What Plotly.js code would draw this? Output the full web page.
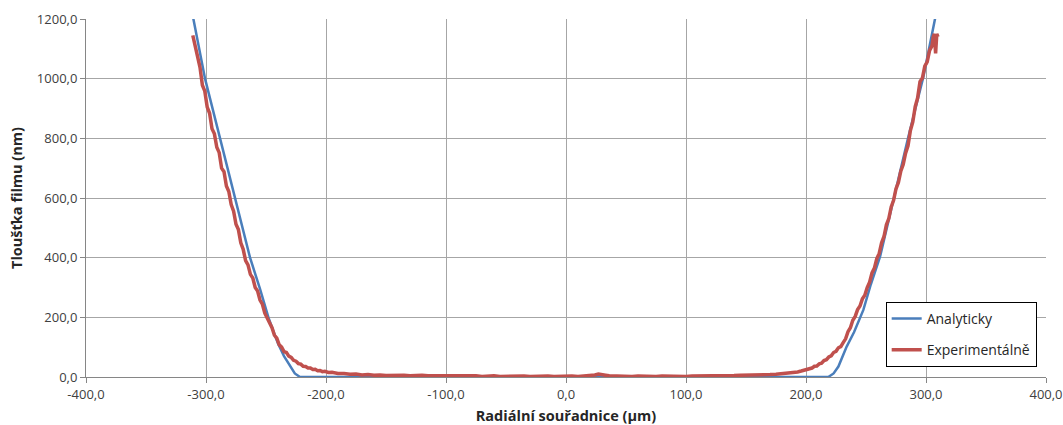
<!DOCTYPE html>
<html>
<head>
<meta charset="utf-8">
<script src="https://cdn.plot.ly/plotly-3.0.1.min.js"></script>
<style>html,body{margin:0;padding:0;background:#fff;}#chart{width:1063px;height:425px;}</style>
</head>
<body>
<div id="chart"></div>
<script>
// Analytical film thickness
const analyticX = [-313, -310.5, -300.8, -288.3, -275.8, -263.3, -255, -248, -244, -240, -235, -230, -226, -221.7,
  -150, -50, 0, 50, 150, 218.6, 223, 227, 233.9, 240, 247.8, 254, 261.7, 272.8, 285, 297.8, 307.5, 310];
const analyticY = [1260, 1200, 1000, 800, 600, 400, 295, 200, 155, 112, 70, 35, 12, 0,
  0, 0, 0, 0, 0, 0, 12, 35, 102, 150, 225, 310, 403, 593, 800, 1006, 1197, 1250];

const expX = [-311, -309, -307, -305, -303, -301, -299, -297, -295, -293, -291, -289, -287, -285, -283, -281,
  -279, -277, -275, -273, -271, -269, -267, -265, -263, -261, -259, -257, -255, -253, -251, -249,
  -247, -245, -243, -241, -239, -237, -235, -233, -231, -229, -227, -225, -223, -221, -219, -217,
  -215, -213, -211, -209, -207, -205, -203, -201, -198, -195, -190, -185, -180, -175, -170, -165,
  -160, -155, -150, -145, -140, -135, -130, -125, -120, -115, -110, -105, -100, -95, -90, -85,
  -80, -75, -70, -65, -60, -55, -50, -45, -40, -35, -30, -25, -20, -15, -10, -5,
  0, 5, 10, 15, 20, 24, 27, 30, 33, 36, 40, 45, 50, 55, 60, 65,
  70, 75, 80, 85, 90, 95, 100, 105, 110, 115, 120, 125, 130, 135, 140, 145,
  150, 155, 160, 165, 170, 175, 180, 185, 190, 193, 196, 199, 201, 203, 205, 207,
  209, 211, 213, 215, 217, 219, 221, 223, 225, 227, 229, 231, 233, 235, 237, 239,
  241, 243, 245, 247, 249, 251, 253, 255, 257, 259, 261, 263, 265, 267, 269, 271,
  273, 275, 277, 279, 281, 283, 285, 287, 289, 291, 293, 295, 297, 299, 301, 303,
  305, 306, 307, 308, 309, 310];
const expY = [1145, 1108, 1062, 1038, 978, 958, 905, 884, 832, 815, 770, 752, 700, 688, 640, 622,
  578, 556, 512, 494, 450, 428, 390, 376, 344, 332, 300, 288, 258, 244, 214, 198,
  176, 165, 140, 130, 108, 100, 85, 82, 70, 66, 56, 53, 45, 43, 36, 35,
  30, 30, 25, 26, 21, 22, 18, 19, 15, 16, 12, 12, 9, 10, 7, 8,
  6, 7, 5, 6, 5, 6, 4, 5, 6, 4, 4, 5, 3, 4, 3, 4,
  3, 4, 2, 3, 4, 2, 3, 3, 2, 3, 2, 3, 2, 3, 2, 3,
  2, 3, 2, 3, 4, 7, 10, 9, 6, 4, 3, 2, 3, 2, 3, 2,
  3, 2, 3, 2, 3, 2, 2, 3, 3, 4, 3, 4, 4, 5, 5, 6,
  6, 7, 7, 8, 8, 9, 11, 12, 15, 17, 20, 24, 26, 29, 30, 36,
  37, 44, 46, 55, 58, 67, 71, 82, 86, 98, 102, 115, 128, 152, 165, 190,
  203, 226, 238, 262, 274, 300, 318, 349, 365, 397, 414, 450, 471, 510, 531, 570,
  592, 631, 652, 690, 712, 750, 775, 826, 855, 906, 935, 990, 1002, 1042, 1056, 1095,
  1110, 1140, 1150, 1085, 1150, 1140];

const seriesNames = ['Analyticky', 'Experimentálně'];
const xTickVals = [-400, -300, -200, -100, 0, 100, 200, 300, 400];
const xTickText = ['-400,0', '-300,0', '-200,0', '-100,0', '0,0', '100,0', '200,0', '300,0', '400,0'];
const yTickVals = [0, 200, 400, 600, 800, 1000, 1200];
const yTickText = ['0,0', '200,0', '400,0', '600,0', '800,0', '1000,0', '1200,0'];

const FONT = 'Open Sans, Liberation Sans, sans-serif';

const traces = [
  {x: analyticX, y: analyticY, type: 'scatter', mode: 'lines', name: seriesNames[0], legendgroup: 'a',
   line: {color: '#4a7ebb', width: 2.5}},
  {x: expX, y: expY, type: 'scatter', mode: 'lines', name: seriesNames[1], legendgroup: 'b',
   line: {color: '#c0504d', width: 3.5}}
];

const layout = {
  width: 1063, height: 425,
  margin: {l: 86, r: 17, t: 19, b: 48, pad: 0},
  paper_bgcolor: '#ffffff', plot_bgcolor: '#ffffff',
  font: {family: FONT, size: 13, color: '#404040'},
  showlegend: true,
  legend: {x: 0.833, y: 0.2095, xanchor: 'left', yanchor: 'top', bgcolor: '#ffffff',
    bordercolor: '#000000', borderwidth: 1, font: {family: FONT, size: 14, color: '#262626'},
    traceorder: 'grouped', tracegroupgap: 10},
  xaxis: {range: [-400, 400], tickvals: xTickVals, ticktext: xTickText, showgrid: true,
    gridcolor: '#a6a6a6', gridwidth: 1, zeroline: false, showline: true, linecolor: '#868686',
    linewidth: 1, ticks: 'outside', ticklen: 5, tickcolor: '#868686',
    tickfont: {family: FONT, size: 13, color: '#404040'},
    title: {text: 'Radiální souřadnice (µm)', font: {family: FONT, size: 14.5, color: '#262626', weight: 'bold'}, standoff: 10}},
  yaxis: {range: [0, 1200], tickvals: yTickVals, ticktext: yTickText, showgrid: true,
    gridcolor: '#a6a6a6', gridwidth: 1, zeroline: false, showline: true, linecolor: '#868686',
    linewidth: 1, ticks: 'outside', ticklen: 5, tickcolor: '#868686',
    tickfont: {family: FONT, size: 13, color: '#404040'},
    title: {text: 'Tloušťka filmu (nm)', font: {family: FONT, size: 14.5, color: '#262626', weight: 'bold'}, standoff: 10}}
};

Plotly.newPlot('chart', traces, layout, {displayModeBar: false, staticPlot: true});
</script>
</body>
</html>
